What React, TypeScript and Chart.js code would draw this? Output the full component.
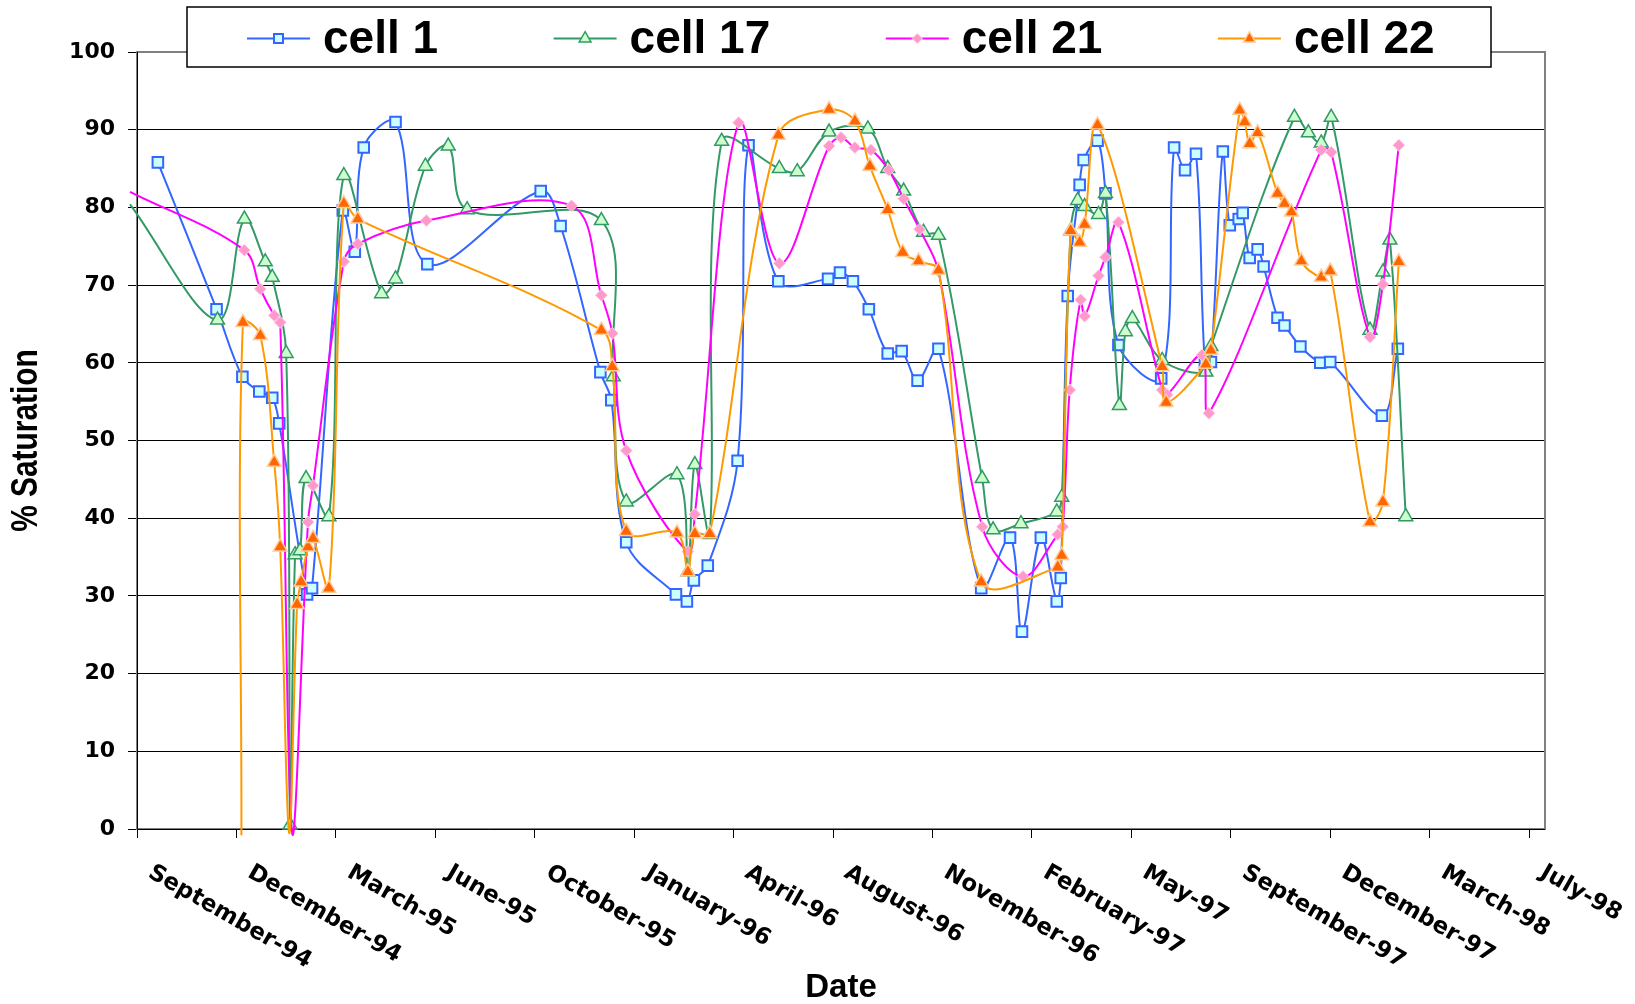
import React, { useEffect, useRef } from 'react';
import { Chart, registerables } from 'chart.js';

Chart.register(...registerables);

// ---- Axis definitions (x values are days since 1 September 1994) ----
const xTickLabels = [
  'September-94', 'December-94', 'March-95', 'June-95', 'October-95', 'January-96',
  'April-96', 'August-96', 'November-96', 'February-97', 'May-97', 'September-97',
  'December-97', 'March-98', 'July-98',
];
const xTickStepDays = 100;
const xMaxDay = 1416;
const yMin = 0;
const yMax = 100;
const yStep = 10;
const xTitle = 'Date';
const yTitle = '% Saturation';

// ---- Series data ----
const seriesNames = ['cell 1', 'cell 17', 'cell 21', 'cell 22'];

const cell1Days = [21, 80, 106, 123, 136, 143, 171, 176, 207, 219, 228, 260, 292, 406, 426, 466, 477, 492, 542, 553, 560, 574, 604, 615, 645, 695, 707, 720, 736, 755, 769, 785, 806, 849, 878, 890, 909, 925, 929, 936, 948, 952, 966, 974, 987, 1030, 1043, 1054, 1065, 1074, 1080, 1092, 1099, 1108, 1112, 1119, 1127, 1133, 1147, 1154, 1170, 1190, 1200, 1252, 1268];
const cell1Values = [85.8, 66.9, 58.2, 56.3, 55.5, 52.2, 30.2, 31.0, 79.6, 74.3, 87.7, 91.0, 72.7, 82.1, 77.6, 58.8, 55.2, 36.9, 30.2, 29.3, 32.0, 33.9, 47.4, 88.0, 70.5, 70.8, 71.6, 70.5, 66.9, 61.2, 61.5, 57.7, 61.8, 31.0, 37.5, 25.4, 37.5, 29.3, 32.3, 68.6, 82.9, 86.1, 88.6, 81.8, 62.3, 58.0, 87.7, 84.8, 86.9, 59.8, 60.1, 87.2, 77.7, 78.5, 79.3, 73.5, 74.6, 72.4, 65.8, 64.8, 62.1, 60.0, 60.1, 53.2, 61.8];

const cell17Days = [-7, 81, 108, 129, 136, 150, 154, 159, 164, 170, 193, 208, 246, 260, 290, 313, 332, 467, 479, 492, 543, 554, 561, 576, 588, 646, 664, 696, 735, 755, 771, 791, 806, 850, 861, 889, 925, 930, 939, 946, 953, 967, 974, 988, 994, 1001, 1031, 1075, 1080, 1164, 1178, 1191, 1201, 1240, 1253, 1260, 1276];
const cell17Values = [80.4, 65.5, 78.5, 73.0, 71.0, 61.2, 0.5, 35.3, 35.8, 45.1, 40.2, 84.1, 68.9, 70.8, 85.3, 87.9, 79.7, 78.3, 58.2, 42.1, 45.6, 33.1, 46.9, 37.9, 88.5, 85.0, 84.6, 89.7, 90.1, 85.0, 82.1, 76.8, 76.4, 45.1, 38.5, 39.3, 40.8, 42.7, 77.0, 80.9, 80.1, 79.1, 81.8, 54.5, 64.0, 65.7, 60.3, 58.8, 62.1, 91.6, 89.6, 88.3, 91.6, 64.2, 71.7, 75.8, 40.2];

const cell21Days = [-7, 108, 124, 138, 144, 156, 172, 177, 208, 222, 291, 437, 467, 478, 492, 554, 561, 605, 646, 696, 708, 722, 738, 756, 771, 787, 806, 850, 891, 926, 931, 938, 949, 953, 967, 974, 987, 1031, 1036, 1071, 1078, 1191, 1201, 1240, 1253, 1269];
const cell21Values = [82.0, 74.5, 69.5, 66.1, 65.2, -0.5, 39.5, 44.2, 73.0, 75.3, 78.3, 80.2, 68.7, 63.8, 48.7, 35.7, 40.5, 90.9, 72.8, 87.9, 89.0, 87.7, 87.4, 84.8, 81.1, 77.2, 71.8, 38.9, 32.5, 37.9, 38.9, 56.5, 68.1, 66.0, 71.2, 73.6, 78.1, 56.5, 55.9, 61.0, 53.5, 87.4, 87.1, 63.3, 70.1, 88.0];

const cell22Days = [105, 106.5, 124, 138, 144, 153, 161, 165, 172, 177, 193, 208, 222, 467, 478, 492, 543, 554, 561, 576, 645, 696, 722, 737, 755, 770, 786, 806, 849, 926, 930, 939, 948, 953, 966, 1031, 1035, 1075, 1080, 1109, 1114, 1119, 1127, 1147, 1154, 1161, 1171, 1191, 1200, 1240, 1253, 1269];
const cell22Values = [-0.8, 65.2, 63.5, 47.2, 36.3, -0.5, 28.9, 31.8, 36.3, 37.4, 31.0, 80.5, 78.5, 64.2, 59.5, 38.3, 38.1, 33.1, 38.0, 38.0, 89.3, 92.6, 91.1, 85.3, 79.7, 74.2, 73.1, 71.9, 31.8, 33.7, 35.2, 77.0, 75.5, 77.8, 90.6, 59.5, 54.9, 59.8, 61.6, 92.5, 91.0, 88.2, 89.6, 81.8, 80.5, 79.4, 73.1, 71.0, 71.8, 39.5, 42.1, 73.0];

// ---- Styles ----
type MarkerKind = 'rect' | 'triangle' | 'rectRot';
interface SeriesStyle {
  line: string;
  fill: string;
  stroke: string;
  marker: MarkerKind;
  radius: number;
  markerBorder: number;
}

const seriesStyles: SeriesStyle[] = [
  { line: '#3366FF', fill: '#CCFFFF', stroke: '#3366FF', marker: 'rect', radius: 7.5, markerBorder: 2 },
  { line: '#339966', fill: '#CCFFCC', stroke: '#339966', marker: 'triangle', radius: 8, markerBorder: 1.5 },
  { line: '#FF00FF', fill: '#FF99CC', stroke: '#FFD0E8', marker: 'rectRot', radius: 6, markerBorder: 1 },
  { line: '#FF9900', fill: '#FF6600', stroke: '#FFCC99', marker: 'triangle', radius: 8, markerBorder: 1.5 },
];

const seriesDays = [cell1Days, cell17Days, cell21Days, cell22Days];
const seriesValues = [cell1Values, cell17Values, cell21Values, cell22Values];

const TICK_FONT = '"DejaVu Sans", Verdana, sans-serif';
const TITLE_FONT = '"Liberation Sans", Arial, sans-serif';

function drawMarker(
  ctx: CanvasRenderingContext2D,
  kind: MarkerKind,
  x: number,
  y: number,
  r: number,
  fill: string,
  stroke: string,
  bw: number,
) {
  ctx.beginPath();
  if (kind === 'rect') {
    const s = r * Math.SQRT1_2;
    ctx.rect(x - s, y - s, 2 * s, 2 * s);
  } else if (kind === 'rectRot') {
    ctx.moveTo(x - r, y);
    ctx.lineTo(x, y - r);
    ctx.lineTo(x + r, y);
    ctx.lineTo(x, y + r);
    ctx.closePath();
  } else {
    let rad = 0;
    ctx.moveTo(x + Math.sin(rad) * r, y - Math.cos(rad) * r);
    rad += (2 * Math.PI) / 3;
    ctx.lineTo(x + Math.sin(rad) * r, y - Math.cos(rad) * r);
    rad += (2 * Math.PI) / 3;
    ctx.lineTo(x + Math.sin(rad) * r, y - Math.cos(rad) * r);
    ctx.closePath();
  }
  ctx.fillStyle = fill;
  ctx.fill();
  if (bw > 0) {
    ctx.lineWidth = bw;
    ctx.strokeStyle = stroke;
    ctx.stroke();
  }
}

const excelLookPlugin = {
  id: 'excelLook',
  beforeDatasetsDraw(chart: any) {
    const { ctx, chartArea } = chart;
    const { left, right, top, bottom } = chartArea;
    ctx.save();
    ctx.strokeStyle = '#808080';
    ctx.lineWidth = 2;
    ctx.strokeRect(left, top, right - left, bottom - top);
    ctx.strokeStyle = '#000000';
    ctx.lineWidth = 1;
    ctx.beginPath();
    ctx.moveTo(Math.round(left) + 0.5, top);
    ctx.lineTo(Math.round(left) + 0.5, Math.round(bottom) + 0.5);
    ctx.lineTo(right, Math.round(bottom) + 0.5);
    ctx.stroke();
    ctx.restore();
  },
  afterDraw(chart: any) {
    const { ctx, chartArea } = chart;
    const xScale = chart.scales.x;
    ctx.save();

    // Y axis title (condensed bold)
    ctx.save();
    ctx.fillStyle = '#000000';
    ctx.font = `bold 36px ${TITLE_FONT}`;
    ctx.textAlign = 'center';
    ctx.textBaseline = 'middle';
    ctx.translate(27, (chartArea.top + chartArea.bottom) / 2);
    ctx.rotate(-Math.PI / 2);
    ctx.scale(0.83, 1);
    ctx.fillText(yTitle, 0, 0);
    ctx.restore();

    // Rotated x tick labels
    ctx.fillStyle = '#000000';
    ctx.font = `bold 23px ${TICK_FONT}`;
    ctx.textAlign = 'left';
    ctx.textBaseline = 'middle';
    const angle = (30 * Math.PI) / 180;
    xTickLabels.forEach((label, i) => {
      const px = xScale.getPixelForValue(i * xTickStepDays);
      ctx.save();
      ctx.translate(px + 13, chartArea.bottom + 42);
      ctx.rotate(angle);
      ctx.fillText(label, 0, 0);
      ctx.restore();
    });

    // Legend box
    const boxX = 187;
    const boxY = 7;
    const boxW = 1304;
    const boxH = 60;
    ctx.fillStyle = '#FFFFFF';
    ctx.fillRect(boxX, boxY, boxW, boxH);
    ctx.strokeStyle = '#000000';
    ctx.lineWidth = 1.5;
    ctx.strokeRect(boxX, boxY, boxW, boxH);

    ctx.font = `bold 46px ${TITLE_FONT}`;
    ctx.textAlign = 'left';
    ctx.textBaseline = 'alphabetic';
    const lineY = 38.5;
    let x = 247;
    seriesNames.forEach((name, i) => {
      const st = seriesStyles[i];
      ctx.strokeStyle = st.line;
      ctx.lineWidth = 2;
      ctx.beginPath();
      ctx.moveTo(x, lineY);
      ctx.lineTo(x + 63, lineY);
      ctx.stroke();
      drawMarker(ctx, st.marker, x + 31.5, lineY, st.radius * 0.85, st.fill, st.stroke, st.markerBorder);
      ctx.fillStyle = '#000000';
      ctx.fillText(name, x + 76, 53);
      x += 76 + ctx.measureText(name).width + 115.5;
    });
    ctx.restore();
  },
};

export default function App() {
  const canvasRef = useRef<HTMLCanvasElement | null>(null);

  useEffect(() => {
    const canvas = canvasRef.current;
    if (!canvas) return;

    const hideOutside = (r: number) => (c: any) => {
      const p = c.raw;
      return p && (p.y < 0 || p.x < 0) ? 0 : r;
    };

    const datasets = seriesNames.map((name, i) => {
      const st = seriesStyles[i];
      return {
        label: name,
        data: seriesDays[i].map((d, j) => ({ x: d, y: seriesValues[i][j] })),
        borderColor: st.line,
        backgroundColor: st.fill,
        borderWidth: 2,
        pointStyle: st.marker,
        pointRadius: hideOutside(st.radius),
        pointHoverRadius: hideOutside(st.radius),
        pointBackgroundColor: st.fill,
        pointBorderColor: st.stroke,
        pointBorderWidth: st.markerBorder,
        tension: 0.35,
        fill: false,
        clip: false as const,
        order: seriesNames.length - i,
      };
    });

    const chart = new Chart(canvas, {
      type: 'line',
      data: { datasets },
      plugins: [excelLookPlugin],
      options: {
        animation: false,
        responsive: false,
        devicePixelRatio: 1,
        events: [],
        layout: { padding: { top: 52, right: 90, bottom: 0, left: 0 } },
        elements: { line: { capBezierPoints: false } },
        plugins: {
          legend: { display: false },
          tooltip: { enabled: false },
          title: { display: false },
        },
        scales: {
          x: {
            type: 'linear',
            min: 0,
            max: xMaxDay,
            afterBuildTicks: (scale: any) => {
              scale.ticks = xTickLabels.map((_, i) => ({ value: i * xTickStepDays }));
            },
            afterFit: (scale: any) => {
              scale.height = 175;
            },
            ticks: { display: false },
            grid: {
              display: true,
              drawOnChartArea: false,
              drawTicks: true,
              tickLength: 9,
              color: '#000000',
              tickColor: '#000000',
              lineWidth: 1,
            },
            border: { display: false },
            title: {
              display: true,
              text: xTitle,
              color: '#000000',
              font: { family: TITLE_FONT, weight: 'bold', size: 33, lineHeight: 1 },
              padding: { top: 0, bottom: 0 },
            },
          },
          y: {
            type: 'linear',
            min: yMin,
            max: yMax,
            afterFit: (scale: any) => {
              scale.width = 137;
            },
            ticks: {
              stepSize: yStep,
              color: '#000000',
              padding: 13,
              font: { family: TICK_FONT, weight: 'bold', size: 22 },
            },
            grid: {
              color: '#000000',
              lineWidth: 1,
              drawTicks: true,
              tickLength: 9,
              tickColor: '#000000',
            },
            border: { display: false },
            title: { display: false },
          },
        },
      },
    } as any);

    return () => {
      chart.destroy();
    };
  }, []);

  return (
    <div style={{ position: 'absolute', left: 0, top: 0, width: 1635, height: 1004, background: '#ffffff' }}>
      <canvas ref={canvasRef} width={1635} height={1004} style={{ display: 'block' }} />
    </div>
  );
}
